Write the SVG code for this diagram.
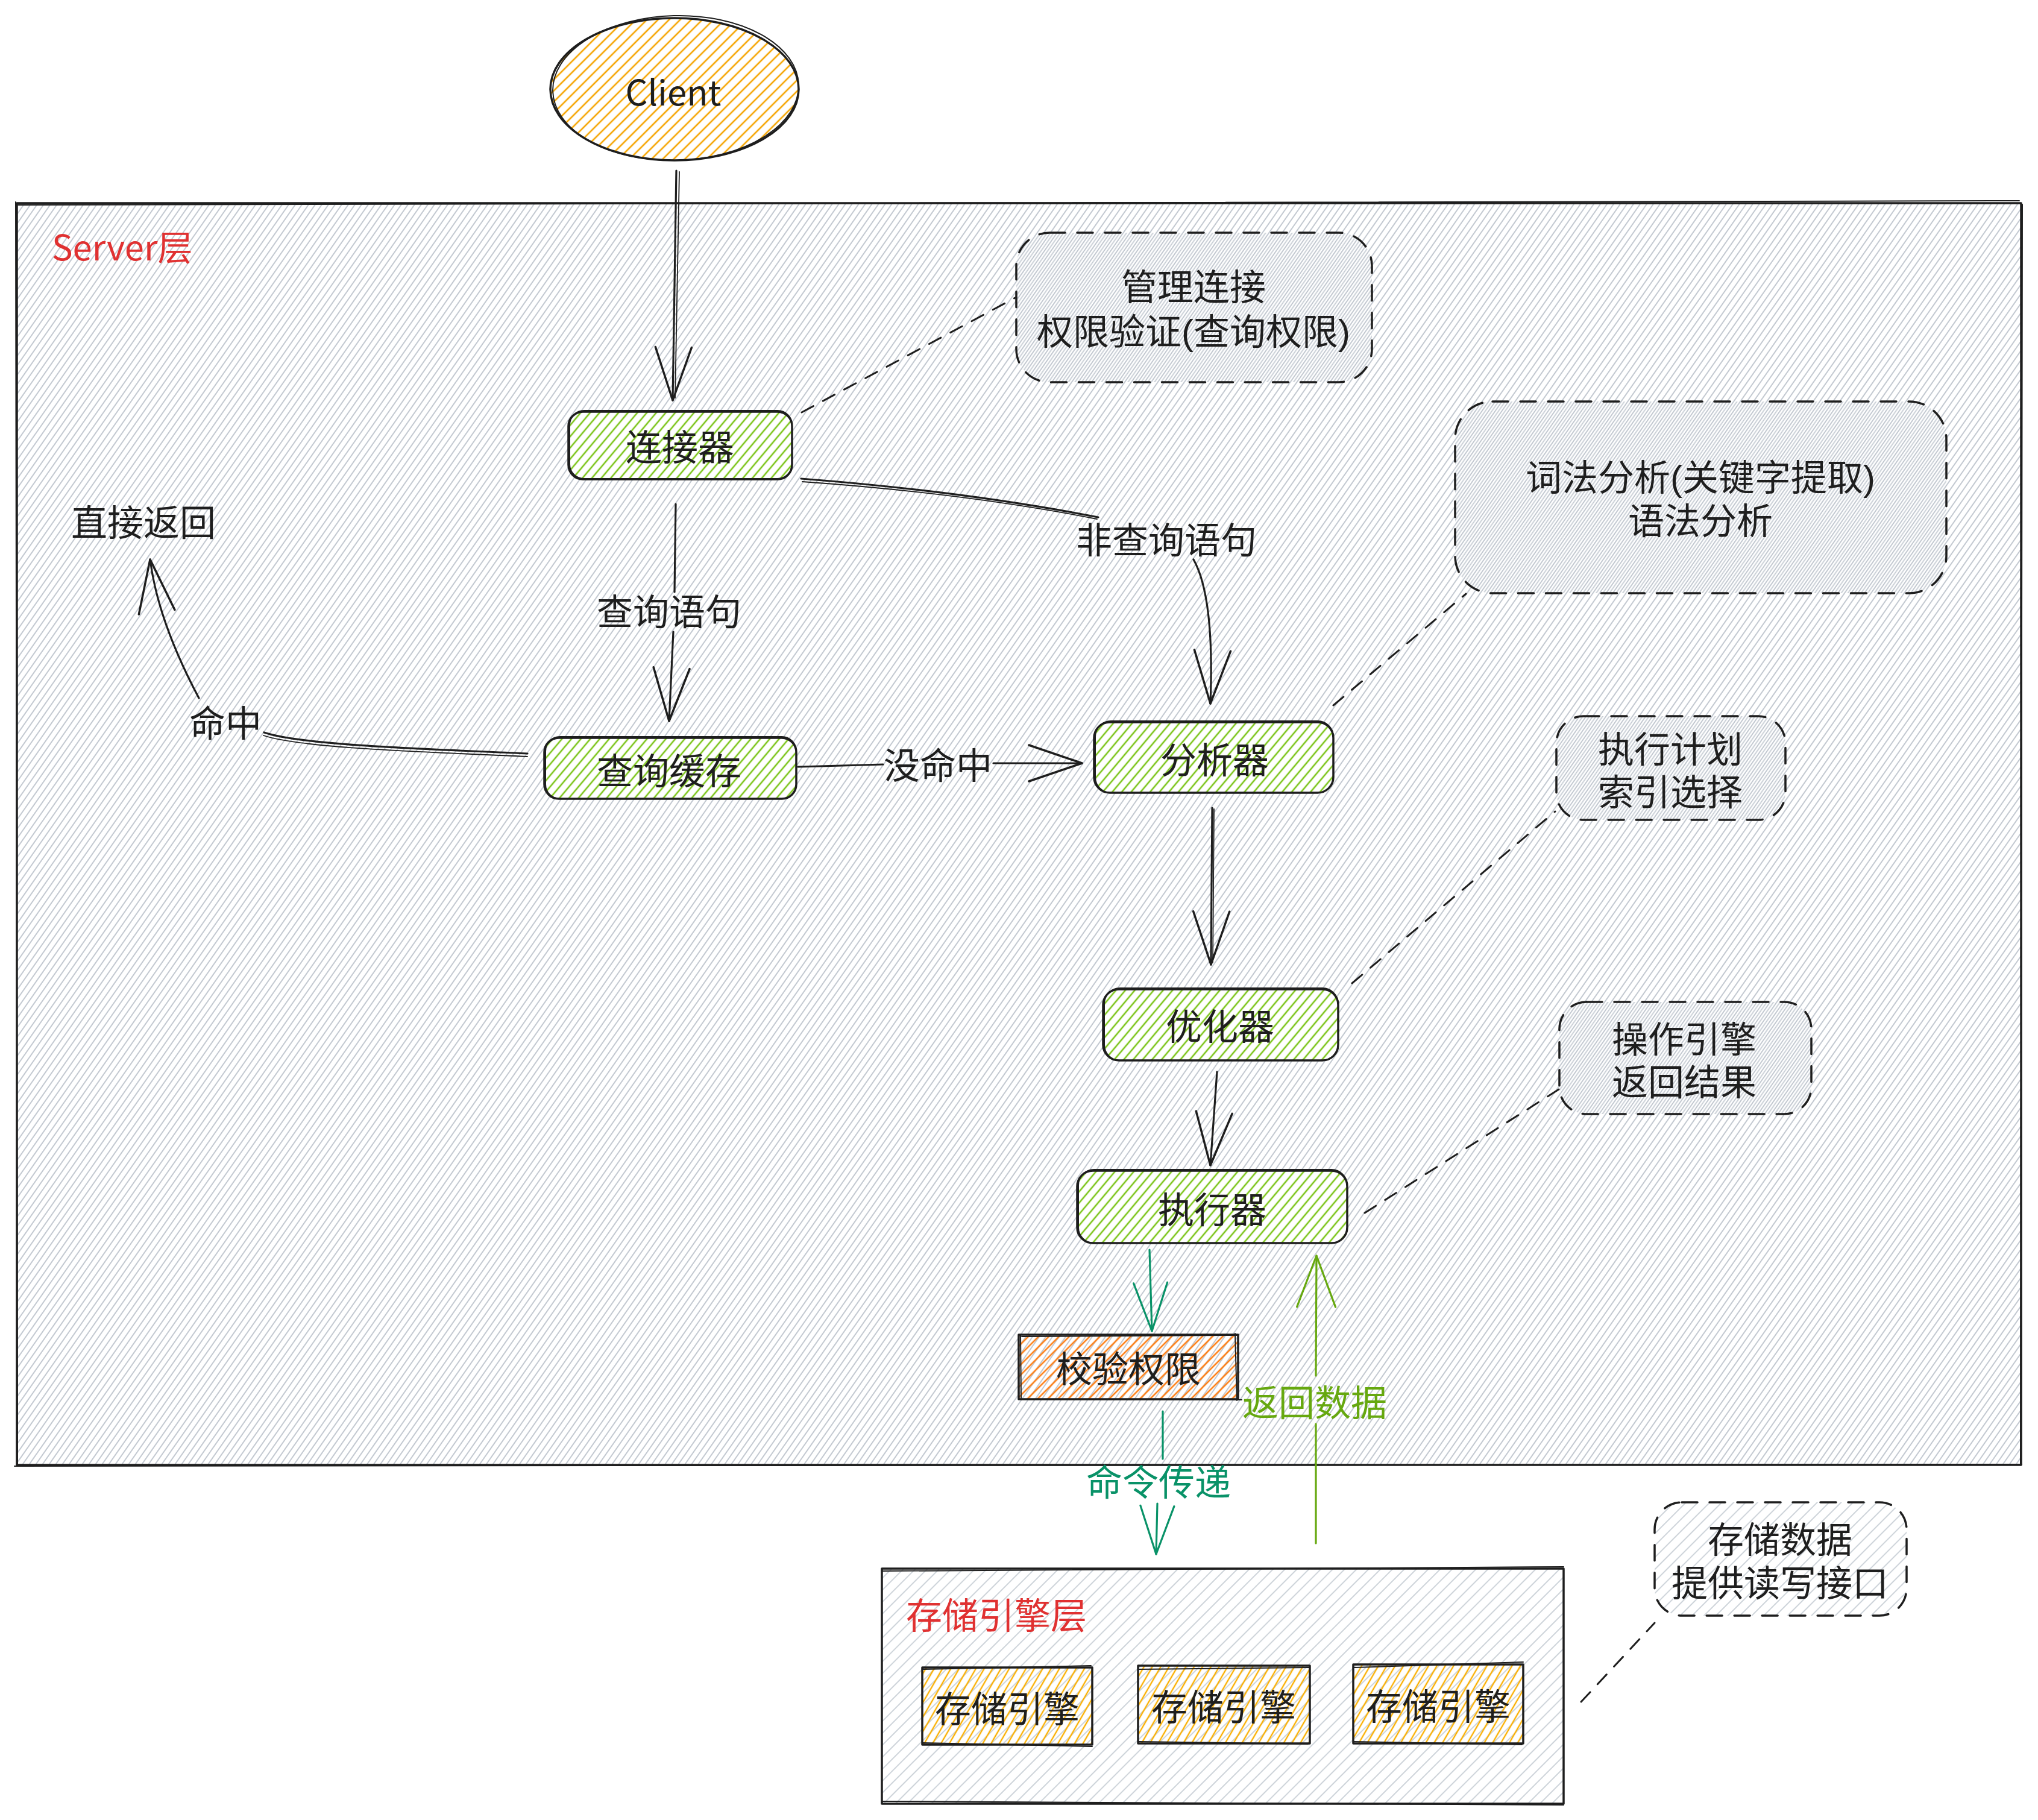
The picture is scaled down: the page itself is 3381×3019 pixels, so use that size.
<svg xmlns="http://www.w3.org/2000/svg" width="3381" height="3019" viewBox="0 0 3381 3019">
<defs>
<style>
.t{font-family:"Noto Sans CJK SC","Noto Sans",sans-serif;font-size:60px;fill:#1e1e1e;text-anchor:middle;dominant-baseline:central}
.tn{font-family:"Liberation Sans","Noto Sans CJK SC",sans-serif;font-size:60px;fill:#1e1e1e;text-anchor:middle;dominant-baseline:central}
.red{fill:#e03131;text-anchor:start}
.teal{fill:#099268}
.lime{fill:#66a80f}
.ed{fill:none;stroke:#1e1e1e;stroke-width:3.5;stroke-linejoin:round;stroke-linecap:round}
.ed2{fill:none;stroke:#1e1e1e;stroke-width:2;stroke-linejoin:round;stroke-linecap:round}
.dash{fill:none;stroke:#1e1e1e;stroke-width:3.5;stroke-dasharray:26 20;stroke-linecap:round}
.dl{fill:none;stroke:#1e1e1e;stroke-width:3;stroke-dasharray:22 18;stroke-linecap:round}
.c{fill:none;stroke:#1e1e1e;stroke-width:3.2;stroke-linecap:round}
.c2{fill:none;stroke:#1e1e1e;stroke-width:1.8;stroke-linecap:round}
.cteal{fill:none;stroke:#099268;stroke-width:3.2;stroke-linecap:round}
.clime{fill:none;stroke:#66a80f;stroke-width:3.2;stroke-linecap:round}
</style>
<pattern id="pg" patternUnits="userSpaceOnUse" width="9" height="9" patternTransform="rotate(35)"><line x1="2" y1="0" x2="2" y2="9" stroke="#c3c9d1" stroke-width="2"/></pattern>
<pattern id="pg2" patternUnits="userSpaceOnUse" width="9" height="9" patternTransform="rotate(35)"><line x1="6.5" y1="0" x2="6.5" y2="9" stroke="#c3c9d1" stroke-width="1.8"/></pattern>
<pattern id="pg3" patternUnits="userSpaceOnUse" width="14" height="14" patternTransform="rotate(45)"><line x1="2" y1="0" x2="2" y2="14" stroke="#ced4da" stroke-width="2"/></pattern>
<pattern id="pgreen" patternUnits="userSpaceOnUse" width="12" height="12" patternTransform="rotate(40)"><line x1="2" y1="0" x2="2" y2="12" stroke="#7cc41a" stroke-width="2.6"/></pattern>
<pattern id="porange" patternUnits="userSpaceOnUse" width="13" height="13" patternTransform="rotate(45)"><line x1="2" y1="0" x2="2" y2="13" stroke="#f5a400" stroke-width="2.6"/></pattern>
<pattern id="pyellow" patternUnits="userSpaceOnUse" width="12" height="12" patternTransform="rotate(30)"><line x1="2" y1="0" x2="2" y2="12" stroke="#fab005" stroke-width="2.4"/></pattern>
<pattern id="pdark" patternUnits="userSpaceOnUse" width="12" height="12" patternTransform="rotate(45)"><line x1="2" y1="0" x2="2" y2="12" stroke="#fd7e14" stroke-width="2.6"/></pattern>
<marker id="ah" markerUnits="userSpaceOnUse" markerWidth="120" markerHeight="100" viewBox="-110 -50 120 100" refX="0" refY="0" orient="auto" overflow="visible"><path d="M-88,-30 L0,0 L-88,30" fill="none" stroke="#1e1e1e" stroke-width="3.5" stroke-linecap="round" stroke-linejoin="round"/></marker>
<marker id="ahteal" markerUnits="userSpaceOnUse" markerWidth="120" markerHeight="100" viewBox="-110 -50 120 100" refX="0" refY="0" orient="auto" overflow="visible"><path d="M-80,-28 L0,0 L-80,28" fill="none" stroke="#099268" stroke-width="3.2" stroke-linecap="round" stroke-linejoin="round"/></marker>
<marker id="ahlime" markerUnits="userSpaceOnUse" markerWidth="120" markerHeight="100" viewBox="-110 -50 120 100" refX="0" refY="0" orient="auto" overflow="visible"><path d="M-85,-32 L0,0 L-85,32" fill="none" stroke="#66a80f" stroke-width="3.2" stroke-linecap="round" stroke-linejoin="round"/></marker>
</defs>
<rect width="3381" height="3019" fill="#ffffff"/>

<g id="server-layer">
<rect x="28" y="337" width="3325" height="2093" fill="url(#pg)"/>
<rect x="28" y="337" width="3325" height="2093" class="ed"/>
<path d="M30,340 L3350,333 M3355,339 L3352,2428 M24,2432 L3354,2429 M26,335 L29,2431" class="ed2"/>
<text x="86" y="407" class="t red" style="font-size:58px">Server层</text>
</g>

<g id="note-connection">
<rect x="1686" y="386" width="590" height="248" rx="55" fill="url(#pg2)"/>
<rect x="1686" y="386" width="590" height="248" rx="55" class="dash"/>
<text class="tn"><tspan x="1980" y="477">管理连接</tspan><tspan x="1980" dy="74">权限验证(查询权限)</tspan></text>
</g>

<g id="note-analyzer">
<rect x="2414" y="666" width="815" height="318" rx="62" fill="url(#pg2)"/>
<rect x="2414" y="666" width="815" height="318" rx="62" class="dash"/>
<text class="tn"><tspan x="2821" y="793">词法分析(关键字提取)</tspan><tspan x="2821" dy="72">语法分析</tspan></text>
</g>

<g id="note-optimizer">
<rect x="2582" y="1188" width="380" height="172" rx="45" fill="url(#pg2)"/>
<rect x="2582" y="1188" width="380" height="172" rx="45" class="dash"/>
<text class="tn"><tspan x="2771" y="1244">执行计划</tspan><tspan x="2771" dy="71">索引选择</tspan></text>
</g>

<g id="note-executor">
<rect x="2587" y="1662" width="418" height="186" rx="45" fill="url(#pg2)"/>
<rect x="2587" y="1662" width="418" height="186" rx="45" class="dash"/>
<text class="tn"><tspan x="2794" y="1725">操作引擎</tspan><tspan x="2794" dy="71">返回结果</tspan></text>
</g>

<g id="note-storage">
<rect x="2745" y="2492" width="418" height="188" rx="45" fill="url(#pg3)"/>
<rect x="2745" y="2492" width="418" height="188" rx="45" class="dash"/>
<text class="tn"><tspan x="2953" y="2555">存储数据</tspan><tspan x="2953" dy="72">提供读写接口</tspan></text>
</g>

<g id="direct-return">
<text x="238" y="862" class="t">直接返回</text>
</g>

<g id="connector">
<rect x="943" y="683" width="371" height="112" rx="24" fill="#ffffff"/>
<rect x="943" y="683" width="371" height="112" rx="24" fill="url(#pgreen)"/>
<rect x="943" y="683" width="371" height="112" rx="24" class="ed"/>
<rect x="945" y="681" width="369" height="113" rx="24" class="ed2"/>
<text x="1128" y="737" class="t">连接器</text>
</g>

<g id="query-cache">
<rect x="903" y="1224" width="418" height="101" rx="24" fill="#ffffff"/>
<rect x="903" y="1224" width="418" height="101" rx="24" fill="url(#pgreen)"/>
<rect x="903" y="1224" width="418" height="101" rx="24" class="ed"/>
<rect x="905" y="1222" width="416" height="103" rx="24" class="ed2"/>
<text x="1110" y="1274" class="t">查询缓存</text>
</g>

<g id="analyzer">
<rect x="1815" y="1198" width="397" height="117" rx="26" fill="#ffffff"/>
<rect x="1815" y="1198" width="397" height="117" rx="26" fill="url(#pgreen)"/>
<rect x="1815" y="1198" width="397" height="117" rx="26" class="ed"/>
<rect x="1817" y="1196" width="395" height="119" rx="26" class="ed2"/>
<text x="2015" y="1256" class="t">分析器</text>
</g>

<g id="optimizer">
<rect x="1830" y="1641" width="390" height="118" rx="26" fill="#ffffff"/>
<rect x="1830" y="1641" width="390" height="118" rx="26" fill="url(#pgreen)"/>
<rect x="1830" y="1641" width="390" height="118" rx="26" class="ed"/>
<rect x="1832" y="1639" width="388" height="120" rx="26" class="ed2"/>
<text x="2024" y="1698" class="t">优化器</text>
</g>

<g id="executor">
<rect x="1787" y="1942" width="448" height="120" rx="26" fill="#ffffff"/>
<rect x="1787" y="1942" width="448" height="120" rx="26" fill="url(#pgreen)"/>
<rect x="1787" y="1942" width="448" height="120" rx="26" class="ed"/>
<rect x="1789" y="1940" width="446" height="122" rx="26" class="ed2"/>
<text x="2011" y="2002" class="t">执行器</text>
</g>

<g id="check-permission">
<rect x="1690" y="2214" width="364" height="107" fill="url(#pdark)"/>
<rect x="1690" y="2214" width="364" height="107" class="ed"/>
<path d="M1695,2217 L2054,2215 M2049,2212 L2052,2323 M1690,2321 L2060,2322 M1693,2214 L1694,2319" class="ed2"/>
<text x="1872" y="2266" class="t">校验权限</text>
</g>

<g id="storage-layer">
<rect x="1463" y="2602" width="1131" height="390" fill="url(#pg3)"/>
<rect x="1463" y="2602" width="1131" height="390" class="ed"/>
<path d="M1464,2606 L2594,2599 M1463,2988 L2594,2994" class="ed2"/>
<text x="1503" y="2675" class="t red">存储引擎层</text>
</g>

<g id="engine-1">
<rect x="1530" y="2766" width="282" height="128" fill="url(#pyellow)"/>
<rect x="1530" y="2766" width="282" height="128" class="ed"/>
<path d="M1532,2769 L1810,2763 M1530,2891 L1812,2897" class="ed2"/>
<text x="1671" y="2830" class="t">存储引擎</text>
</g>

<g id="engine-2">
<rect x="1888" y="2763" width="285" height="129" fill="url(#pyellow)"/>
<rect x="1888" y="2763" width="285" height="129" class="ed"/>
<path d="M1890,2769 L2172,2766 M1889,2889 L2170,2893" class="ed2"/>
<text x="2030" y="2827" class="t">存储引擎</text>
</g>

<g id="engine-3">
<rect x="2245" y="2761" width="282" height="131" fill="url(#pyellow)"/>
<rect x="2245" y="2761" width="282" height="131" class="ed"/>
<path d="M2247,2766 L2527,2757 M2245,2889 L2525,2894" class="ed2"/>
<text x="2386" y="2826" class="t">存储引擎</text>
</g>

<g id="client">
<ellipse cx="1119" cy="148" rx="206" ry="118" fill="url(#porange)"/>
<ellipse cx="1119" cy="148" rx="206" ry="118" class="ed"/>
<ellipse cx="1121" cy="146" rx="204" ry="120" transform="rotate(-1.5 1121 146)" class="ed2"/>
<text x="1117" y="150" class="t" style="font-size:58px">Client</text>
</g>

<g id="connectors">
<path d="M1122,283 L1116,664" class="c" marker-end="url(#ah)"/>
<path d="M1127,285 L1120,660" class="c2"/>
<path d="M1330,684 L1686,493" class="dl"/>
<path d="M1121,836 L1119,982" class="c"/>
<path d="M1117,1048 L1110,1196" class="c" marker-end="url(#ah)"/>
<text x="1110" y="1010" class="t">查询语句</text>
<path d="M1329,794 Q1600,815 1822,858" class="c"/>
<path d="M1331,799 Q1600,818 1820,861" class="c2"/>
<text x="1935" y="891" class="t">非查询语句</text>
<path d="M1980,928 Q2015,990 2008,1167" class="c" marker-end="url(#ah)"/>
<path d="M1324,1272 L1465,1268" class="c"/>
<text x="1556" y="1265" class="t">没命中</text>
<path d="M1648,1266 L1795,1266" class="c" marker-end="url(#ah)"/>
<path d="M875,1250 C700,1242 500,1236 438,1215" class="c"/>
<path d="M875,1255 C700,1247 500,1241 437,1220" class="c2"/>
<text x="374" y="1195" class="t">命中</text>
<path d="M330,1158 Q262,1030 249,928" class="c" marker-end="url(#ah)"/>
<path d="M2212,1170 L2432,985" class="dl"/>
<path d="M2011,1340 L2009,1600" class="c" marker-end="url(#ah)"/>
<path d="M2014,1342 L2012,1596" class="c2"/>
<path d="M2243,1631 L2580,1346" class="dl"/>
<path d="M2019,1778 L2008,1933" class="c" marker-end="url(#ah)"/>
<path d="M2264,2012 L2586,1807" class="dl"/>
<path d="M1907,2073 L1911,2208" class="cteal" marker-end="url(#ahteal)"/>
<path d="M1929,2341 L1929,2420" class="cteal"/>
<text x="1922" y="2454" class="t teal">命令传递</text>
<path d="M1920,2494 L1918,2578" class="cteal" marker-end="url(#ahteal)"/>
<path d="M2183,2560 L2183,2362" class="clime"/>
<text x="2181" y="2322" class="t lime">返回数据</text>
<path d="M2183,2282 L2184,2083" class="clime" marker-end="url(#ahlime)"/>
<path d="M2623,2823 L2745,2692" class="dl"/>
</g>
</svg>
